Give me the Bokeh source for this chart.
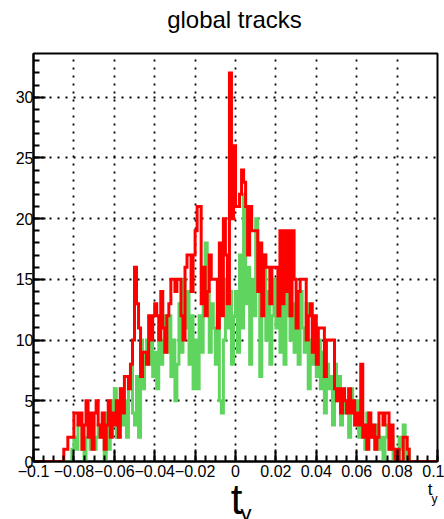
import numpy as np
from bokeh.plotting import figure
from bokeh.models import Range1d, FixedTicker, Label
from bokeh.embed import file_html
from bokeh.resources import INLINE

# 200 bins over t_y in [-0.1, 0.1]
bin_lo = -0.1
bin_hi = 0.1
n_bins = 200

# entries per bin, red histogram
counts_red = [
    0, 0, 0, 0, 0, 0, 0, 0, 0, 0, 0, 0, 0, 0, 0, 1, 1, 2, 2, 2,
    4, 4, 3, 4, 1, 3, 5, 2, 4, 1, 4, 5, 3, 2, 4, 1, 3, 5, 2, 4,
    3, 5, 2, 6, 4, 7, 7, 6, 8, 10, 16, 13, 11, 7, 9, 9, 8, 12, 10, 12,
    13, 12, 10, 14, 11, 9, 12, 13, 15, 15, 14, 15, 15, 12, 10, 16, 17, 17, 14, 17,
    19, 21, 21, 13, 16, 12, 14, 17, 15, 15, 15, 11, 18, 12, 20, 17, 13, 32, 20, 26,
    21, 21, 22, 24, 23, 21, 17, 21, 19, 19, 19, 14, 18, 12, 17, 16, 16, 13, 16, 16,
    16, 12, 19, 13, 19, 14, 19, 12, 19, 15, 11, 14, 15, 15, 15, 10, 12, 13, 9, 12,
    8, 11, 11, 11, 7, 10, 10, 10, 10, 6, 5, 6, 4, 6, 5, 4, 6, 4, 5, 3,
    4, 3, 8, 2, 3, 1, 4, 2, 3, 1, 2, 4, 4, 3, 4, 4, 1, 3, 1, 0,
    1, 0, 0, 2, 2, 1, 0, 0, 0, 0, 0, 0, 0, 0, 0, 0, 0, 0, 0, 0,
]

# entries per bin, green histogram
counts_green = [
    0, 0, 0, 0, 0, 0, 0, 0, 0, 0, 0, 0, 0, 0, 0, 0, 0, 0, 0, 1,
    2, 1, 3, 3, 1, 0, 2, 2, 1, 2, 1, 2, 3, 3, 2, 0, 4, 1, 5, 3,
    6, 2, 4, 6, 3, 5, 2, 6, 8, 4, 3, 7, 2, 10, 6, 9, 10, 8, 10, 7,
    9, 6, 11, 8, 10, 12, 9, 12, 7, 10, 5, 8, 13, 9, 15, 11, 14, 8, 12, 6,
    10, 6, 12, 9, 16, 18, 14, 9, 13, 11, 8, 12, 5, 4, 10, 15, 11, 14, 8, 12,
    14, 9, 17, 11, 22, 13, 16, 8, 15, 12, 20, 15, 7, 13, 17, 10, 14, 8, 12, 15,
    11, 13, 9, 15, 8, 14, 12, 10, 13, 9, 12, 8, 14, 11, 9, 13, 6, 10, 8, 11,
    7, 10, 6, 9, 4, 8, 6, 7, 3, 8, 5, 7, 3, 6, 4, 5, 2, 6, 4, 3,
    5, 2, 4, 3, 1, 4, 2, 3, 2, 1, 3, 1, 2, 0, 2, 3, 1, 2, 0, 1,
    0, 2, 1, 3, 0, 1, 0, 0, 0, 0, 0, 0, 0, 0, 0, 0, 0, 0, 0, 0,
]

x_ticks = [-0.1, -0.08, -0.06, -0.04, -0.02, 0.0, 0.02, 0.04, 0.06, 0.08, 0.1]
x_tick_labels = ["\u22120.1", "\u22120.08", "\u22120.06", "\u22120.04", "\u22120.02",
                 "0", "0.02", "0.04", "0.06", "0.08", "0.1"]
y_ticks = [0, 5, 10, 15, 20, 25, 30]

title_text = "global tracks"
axis_title = ("t", "y")

FONT = "Liberation Sans"
RED = "#ff0000"
GREEN = "#5fd45f"

edges = np.linspace(bin_lo, bin_hi, n_bins + 1)
y_max = 1.05 * max(max(counts_red), max(counts_green))

W, H = 444, 519
LEFT, RIGHT, TOP, BOTTOM = 33, 7, 53, 58

p = figure(width=W, height=H, output_backend="svg", toolbar_location=None,
           x_range=Range1d(bin_lo, bin_hi), y_range=Range1d(0, y_max),
           min_border_left=LEFT, min_border_right=RIGHT,
           min_border_top=TOP, min_border_bottom=BOTTOM)
p.background_fill_color = "white"
p.border_fill_color = "white"
p.outline_line_color = "black"
p.outline_line_width = 2
p.title.visible = False

# histograms as step outlines
p.step(edges, np.append(counts_green, counts_green[-1]), mode="after",
       line_color=GREEN, line_width=3, line_join="miter")
p.step(edges, np.append(counts_red, counts_red[-1]), mode="after",
       line_color=RED, line_width=3, line_join="miter")

x_minor = list(np.round(np.arange(-0.1, 0.1001, 0.005), 3))
y_minor = list(range(0, 34))
p.xaxis.ticker = FixedTicker(ticks=x_ticks, minor_ticks=x_minor)
p.yaxis.ticker = FixedTicker(ticks=y_ticks, minor_ticks=y_minor)
p.xaxis.major_label_overrides = dict(zip(x_ticks, x_tick_labels))

for ax in (p.xaxis, p.yaxis):
    ax.axis_line_width = 2
    ax.axis_line_color = "black"
    ax.major_tick_in = 12
    ax.major_tick_out = 0
    ax.minor_tick_in = 6
    ax.minor_tick_out = 0
    ax.major_tick_line_width = 2
    ax.minor_tick_line_width = 2
    ax.major_tick_line_color = "black"
    ax.minor_tick_line_color = "black"
    ax.major_label_text_font = FONT
    ax.major_label_text_font_size = "16px"
    ax.major_label_text_color = "black"
p.xaxis.major_label_standoff = 3
p.yaxis.major_label_standoff = 0

p.grid.grid_line_color = "black"
p.grid.grid_line_width = 1.8
p.grid.grid_line_dash = "2 6"

# title and axis titles, positioned in canvas pixels (y = text middle); each one
# is held in a side panel that has room to spare so the frame keeps its place
label_style = dict(x_units="canvas", y_units="canvas", text_font=FONT,
                   text_baseline="middle", text_color="black")
p.add_layout(Label(x=234, y=18.6, text=title_text, text_font_size="24px",
                   text_align="center", **label_style), "above")
p.add_layout(Label(x=431, y=498.8, text=axis_title[1], text_font_size="12px",
                   text_align="left", **label_style), "above")
p.add_layout(Label(x=236, y=498.5, text=axis_title[0], text_font_size="42px",
                   text_align="center", **label_style), "left")
p.add_layout(Label(x=240, y=512.5, text=axis_title[1], text_font_size="22px",
                   text_align="left", **label_style), "below")
p.add_layout(Label(x=429.5, y=489, text=axis_title[0], text_font_size="17px",
                   text_align="center", **label_style), "right")

open("out.html", "w").write(file_html(p, INLINE))
